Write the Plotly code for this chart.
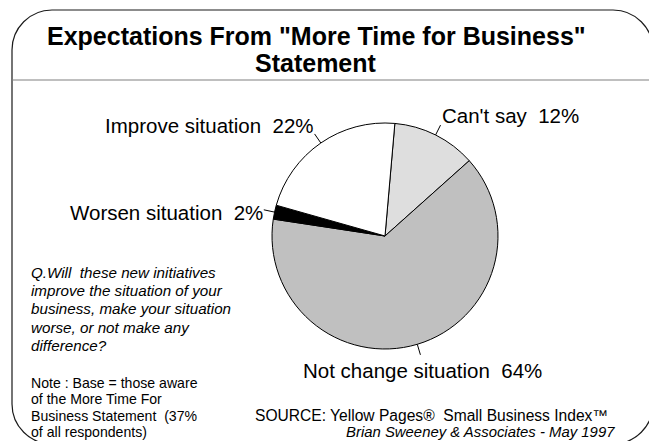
import math
import plotly.graph_objects as go

# ---------------- data ----------------
categories = ["Can't say", "Not change situation", "Worsen situation", "Improve situation"]
values = [12, 64, 2, 22]
pct_labels = ["12%", "64%", "2%", "22%"]
slice_colors = ["#DEDEDE", "#C0C0C0", "#000000", "#FFFFFF"]

title_lines = ['Expectations From "More Time for Business"', "Statement"]
question_lines = [
    "Q.Will\u00a0 these new initiatives",
    "improve the situation of your",
    "business, make your situation",
    "worse, or not make any",
    "difference?",
]
note_lines = [
    "Note : Base = those aware",
    "of the More Time For",
    "Business Statement\u00a0 (37%",
    "of all respondents)",
]
source_line = "SOURCE: Yellow Pages®\u00a0 Small Business Index™"
credit_line = "Brian Sweeney & Associates - May 1997"

# ---------------- layout helpers ----------------
W, H = 649, 441
FONT = "Arial, 'Liberation Sans', sans-serif"


def X(px):
    return px / W


def Y(py):
    return 1 - py / H


CX, CY, R = 385, 236, 113
ROTATION = 5

fig = go.Figure()
fig.add_trace(go.Pie(
    labels=categories,
    values=values,
    sort=False,
    direction="clockwise",
    rotation=ROTATION,
    marker=dict(colors=slice_colors, line=dict(color="#000000", width=1)),
    textinfo="none",
    hoverinfo="label+percent",
    showlegend=False,
    domain=dict(x=[X(CX - R), X(CX + R)], y=[Y(CY + R), Y(CY - R)]),
))

shapes = []
annotations = []


def ann(text, px, py_base, size, xanchor="left", italic=False, bold=False):
    t = text
    if bold:
        t = "<b>" + t + "</b>"
    if italic:
        t = "<i>" + t + "</i>"
    annotations.append(dict(
        text=t, x=X(px), y=Y(py_base - 0.33 * size), xref="paper", yref="paper",
        xanchor=xanchor, yanchor="middle", showarrow=False,
        font=dict(family=FONT, size=size, color="#000000"),
    ))


# frame (rounded rectangle partially outside the view)
L, T, Rr, B, rc = 12, 10, 653, 444, 40
k = 0.5523 * rc


def P(px, py):
    return f"{X(px):.5f},{Y(py):.5f}"


path = (
    f"M {P(L, T + rc)} C {P(L, T + rc - k)} {P(L + rc - k, T)} {P(L + rc, T)} "
    f"L {P(Rr - rc, T)} C {P(Rr - rc + k, T)} {P(Rr, T + rc - k)} {P(Rr, T + rc)} "
    f"L {P(Rr, B - rc)} C {P(Rr, B - rc + k)} {P(Rr - rc + k, B)} {P(Rr - rc, B)} "
    f"L {P(L + rc, B)} C {P(L + rc - k, B)} {P(L, B - rc + k)} {P(L, B - rc)} Z"
)
shapes.append(dict(type="path", path=path, xref="paper", yref="paper",
                   line=dict(color="#1a1a1a", width=1.2), layer="below"))
# title separator
shapes.append(dict(type="line", xref="paper", yref="paper", x0=X(L), x1=X(W + 10),
                   y0=Y(80), y1=Y(80), line=dict(color="#808080", width=1.2)))

# title
ann(title_lines[0], 316, 44, 25, "center", bold=True)
ann(title_lines[1], 316, 71, 25, "center", bold=True)

# leader lines + slice labels, placed from the slice mid-angles
label_style = {
    "Can't say": dict(dx=-1, dy=-3, xanchor="left"),
    "Not change situation": dict(dx=2, dy=22, xanchor="center"),
    "Worsen situation": dict(dx=1, dy=9, xanchor="right"),
    "Improve situation": dict(dx=1, dy=-2, xanchor="right"),
}
total = sum(values)
start = ROTATION
for cat, v, p in zip(categories, values, pct_labels):
    span = 360 * v / total
    mid = math.radians(start + span / 2)
    start += span
    sx, sy = math.sin(mid), -math.cos(mid)
    x0, y0 = CX + R * sx, CY + R * sy
    x1, y1 = CX + (R + 11) * sx, CY + (R + 11) * sy
    shapes.append(dict(type="line", xref="paper", yref="paper",
                       x0=X(x0), y0=Y(y0), x1=X(x1), y1=Y(y1),
                       line=dict(color="#000000", width=1)))
    st = label_style[cat]
    ann(f"{cat}\u00a0 {p}", x1 + st["dx"], y1 + st["dy"], 20.5, st["xanchor"])

# left notes
for i, line in enumerate(question_lines):
    ann(line, 29, 277.3 + 18.3 * i, 15.2, "left", italic=True)
for i, line in enumerate(note_lines):
    ann(line, 29, 387.7 + 16.4 * i, 14.1, "left")

# source
ann(source_line, 253, 421, 15.6, "left")
ann(credit_line, 617, 437, 14.9, "right", italic=True)

fig.update_layout(
    width=W, height=H,
    margin=dict(l=0, r=0, t=0, b=0),
    paper_bgcolor="#FFFFFF", plot_bgcolor="#FFFFFF",
    shapes=shapes, annotations=annotations,
)
fig.write_html(
    "out.html",
    config={"displayModeBar": False},
    post_script="document.body.style.margin='0';document.body.style.overflow='hidden';",
)
